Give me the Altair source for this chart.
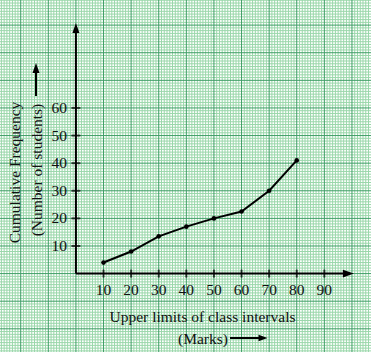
import altair as alt
import pandas as pd

# ---- data ----
upper_limits = [10, 20, 30, 40, 50, 60, 70, 80]
cum_freq = [4, 8, 13.5, 17, 20, 22.5, 30, 41]
x_ticks = [10, 20, 30, 40, 50, 60, 70, 80, 90]
y_ticks = [10, 20, 30, 40, 50, 60]
x_title = ["Upper limits of class intervals"]
x_title2 = ["(Marks)"]
y_title = ["Cumulative Frequency"]
y_title2 = ["(Number of students)"]

W, H = 371, 352
xs = alt.Scale(domain=[-27.5, 106.9], nice=False, zero=False)
ys = alt.Scale(domain=[-28.4, 99.1], nice=False, zero=False)

MINOR = "#9ad7aa"
MAJOR = "#3f9e66"
FONT = "Liberation Serif"
FS = 15.5

gx_minor = pd.DataFrame({"v": [v for v in range(-27, 107) if v % 10]})
gy_minor = pd.DataFrame({"v": [v for v in range(-28, 100) if v % 10]})
gx_major = pd.DataFrame({"v": list(range(-20, 107, 10))})
gy_major = pd.DataFrame({"v": list(range(-20, 100, 10))})

X = lambda f: alt.X(f, scale=xs, axis=None)
Y = lambda f: alt.Y(f, scale=ys, axis=None)

vmin = alt.Chart(gx_minor).mark_rule(color=MINOR, strokeWidth=1).encode(x=X("v:Q"))
hmin = alt.Chart(gy_minor).mark_rule(color=MINOR, strokeWidth=1).encode(y=Y("v:Q"))
vmaj = alt.Chart(gx_major).mark_rule(color=MAJOR, strokeWidth=1).encode(x=X("v:Q"))
hmaj = alt.Chart(gy_major).mark_rule(color=MAJOR, strokeWidth=1).encode(y=Y("v:Q"))

axes_df = pd.DataFrame({"x": [0, 0], "x2": [0, 98], "y": [0, 0], "y2": [88, 0]})
axis_lines = alt.Chart(axes_df).mark_rule(color="black", strokeWidth=2).encode(
    x=X("x:Q"), x2="x2:Q", y=Y("y:Q"), y2="y2:Q")

up_arrow = alt.Chart(pd.DataFrame({"x": [0], "y": [89]})).mark_point(
    shape="M0,-1L0.7,1L-0.7,1Z", size=100, filled=True, color="black", opacity=1
).encode(x=X("x:Q"), y=Y("y:Q"))
right_arrow = alt.Chart(pd.DataFrame({"x": [98.7], "y": [0]})).mark_point(
    shape="M1,0L-1,-0.7L-1,0.7Z", size=121, filled=True, color="black", opacity=1
).encode(x=X("x:Q"), y=Y("y:Q"))

xt = pd.DataFrame({"v": x_ticks, "z": [0] * len(x_ticks)})
yt = pd.DataFrame({"v": y_ticks, "z": [0] * len(y_ticks)})
xtick_marks = alt.Chart(xt).mark_tick(orient="vertical", size=8, thickness=2, color="black").encode(
    x=X("v:Q"), y=Y("z:Q"))
ytick_marks = alt.Chart(yt).mark_tick(orient="horizontal", size=9, thickness=2, color="black").encode(
    y=Y("v:Q"), x=X("z:Q"))
xlabels = alt.Chart(xt).mark_text(font=FONT, fontSize=FS, dy=21.5, baseline="alphabetic", color="#111").encode(
    x=X("v:Q"), y=Y("z:Q"), text=alt.Text("v:Q", format="d"))
ylabels = alt.Chart(yt).mark_text(font=FONT, fontSize=FS, dx=-9, dy=5, align="right", baseline="alphabetic", color="#111").encode(
    y=Y("v:Q"), x=X("z:Q"), text=alt.Text("v:Q", format="d"))

data = pd.DataFrame({"x": upper_limits, "y": cum_freq})
line = alt.Chart(data).mark_line(color="black", strokeWidth=2).encode(x=X("x:Q"), y=Y("y:Q"))
pts = alt.Chart(data).mark_point(filled=True, color="black", size=22, opacity=1).encode(x=X("x:Q"), y=Y("y:Q"))

def label(txt, x, y, angle=0, baseline="alphabetic"):
    return alt.Chart(pd.DataFrame({"t": txt})).mark_text(
        font=FONT, fontSize=FS, baseline=baseline, align="center", angle=angle, color="#111"
    ).encode(x=alt.value(x), y=alt.value(y), text="t:N")

t1 = label(x_title, 202.5, 322)
t2 = label(x_title2, 203, 344)
t3 = label(y_title, 15, 172.5, 270, "middle")
t4 = label(y_title2, 37, 170, 270, "middle")

one = pd.DataFrame({"a": [0]})
xarr = alt.Chart(one).mark_rule(color="black", strokeWidth=2).encode(
    x=alt.value(230), x2=alt.value(260), y=alt.value(338))
xarr_head = alt.Chart(one).mark_point(
    shape="M1,0L-1,-0.7L-1,0.7Z", size=81, filled=True, color="black", opacity=1
).encode(x=alt.value(263), y=alt.value(338))
yarr = alt.Chart(one).mark_rule(color="black", strokeWidth=2).encode(
    x=alt.value(36), y=alt.value(96), y2=alt.value(70))
yarr_head = alt.Chart(one).mark_point(
    shape="M0,-1L0.7,1L-0.7,1Z", size=100, filled=True, color="black", opacity=1
).encode(x=alt.value(36), y=alt.value(68))

chart = alt.layer(
    vmin, hmin, vmaj, hmaj, axis_lines, up_arrow, right_arrow,
    xtick_marks, ytick_marks, xlabels, ylabels, line, pts,
    t1, t2, t3, t4, xarr, xarr_head, yarr, yarr_head
).properties(width=W, height=H, padding=0, autosize="none", background="white"
).configure_view(stroke=None)

chart.save("out.html", embed_options={"renderer": "svg", "actions": False})
